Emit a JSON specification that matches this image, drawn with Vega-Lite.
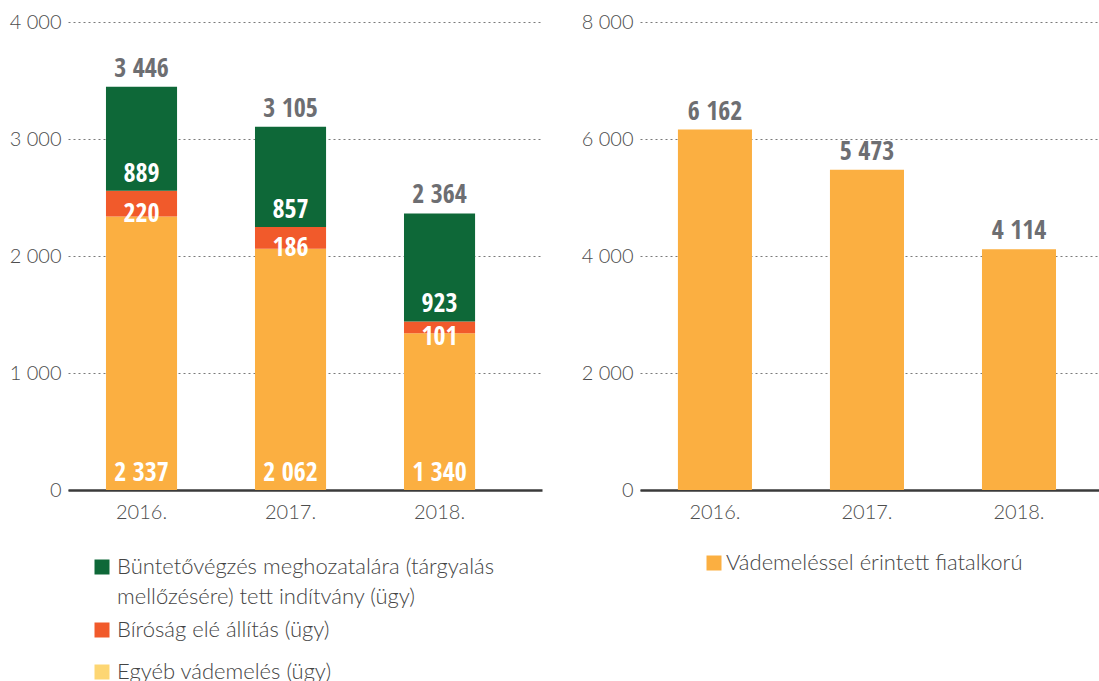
{
  "$schema": "https://vega.github.io/schema/vega-lite/v6.json",
  "background": "white",
  "padding": {"left": 9, "top": 12, "right": 0, "bottom": 0},
  "datasets": {
    "left": [
      {"year": "2016.", "category": "Egyéb vádemelés (ügy)", "value": 2337},
      {"year": "2016.", "category": "Bíróság elé állítás (ügy)", "value": 220},
      {"year": "2016.", "category": "Büntetővégzés meghozatalára (tárgyalás mellőzésére) tett indítvány (ügy)", "value": 889},
      {"year": "2017.", "category": "Egyéb vádemelés (ügy)", "value": 2062},
      {"year": "2017.", "category": "Bíróság elé állítás (ügy)", "value": 186},
      {"year": "2017.", "category": "Büntetővégzés meghozatalára (tárgyalás mellőzésére) tett indítvány (ügy)", "value": 857},
      {"year": "2018.", "category": "Egyéb vádemelés (ügy)", "value": 1340},
      {"year": "2018.", "category": "Bíróság elé állítás (ügy)", "value": 101},
      {"year": "2018.", "category": "Büntetővégzés meghozatalára (tárgyalás mellőzésére) tett indítvány (ügy)", "value": 923}
    ],
    "right": [
      {"year": "2016.", "value": 6162},
      {"year": "2017.", "value": 5473},
      {"year": "2018.", "value": 4114}
    ]
  },
  "hconcat": [
    {
      "width": 474,
      "height": 468,
      "data": {"name": "left"},
      "transform": [
        {"calculate": "indexof(['Egyéb vádemelés (ügy)', 'Bíróság elé állítás (ügy)', 'Büntetővégzés meghozatalára (tárgyalás mellőzésére) tett indítvány (ügy)'], datum.category)", "as": "ord"},
        {"stack": "value", "groupby": ["year"], "sort": [{"field": "ord", "order": "ascending"}], "as": ["y0", "y1"]},
        {"calculate": "(datum.y0 + datum.y1) / 2", "as": "ymid"}
      ],
      "encoding": {
        "x": {
          "field": "year", "type": "nominal", "title": null,
          "scale": {"paddingInner": 0.523, "paddingOuter": 0.352, "align": 0.362},
          "axis": {"labelAngle": 0, "domain": true, "domainColor": "#3a3a3a", "domainWidth": 2.5, "ticks": false, "grid": false, "labelPadding": 12}
        }
      },
      "layer": [
        {
          "mark": {"type": "bar"},
          "encoding": {
            "y": {
              "field": "y1", "type": "quantitative", "title": null,
              "scale": {"domain": [0, 4000]},
              "axis": {"values": [0, 1000, 2000, 3000, 4000], "format": ",d", "grid": true, "gridDash": [2, 3], "gridColor": "#7a7a7a", "gridWidth": 1, "domain": false, "ticks": false, "labelPadding": 7}
            },
            "y2": {"field": "y0"},
            "color": {
              "field": "category", "type": "nominal",
              "scale": {
                "domain": ["Büntetővégzés meghozatalára (tárgyalás mellőzésére) tett indítvány (ügy)", "Bíróság elé állítás (ügy)", "Egyéb vádemelés (ügy)"],
                "range": ["#0e6838", "#f15a2b", "#fbaf41"]
              },
              "legend": {
                "title": null, "orient": "none", "legendX": 23, "legendY": 534, "direction": "vertical",
                "symbolType": "square", "symbolSize": 49, "symbolStrokeWidth": 8,
                "labelFont": "Lato", "labelFontWeight": 300, "labelFontSize": 22, "labelColor": "#444444", "labelLimit": 600, "labelOffset": 4,
                "rowPadding": 2, "padding": 0,
                "labelExpr": "datum.label == 'Büntetővégzés meghozatalára (tárgyalás mellőzésére) tett indítvány (ügy)' ? ['Büntetővégzés meghozatalára (tárgyalás', 'mellőzésére) tett indítvány (ügy)'] : datum.label",
                "encode": {
                  "labels": {"update": {"lineHeight": {"value": 30}}},
                  "symbols": {"update": {"stroke": {"signal": "datum.label == 'Egyéb vádemelés (ügy)' ? '#fdd673' : datum.label == 'Bíróság elé állítás (ügy)' ? '#f15a2b' : '#0e6838'"}, "fill": {"signal": "datum.label == 'Egyéb vádemelés (ügy)' ? '#fdd673' : datum.label == 'Bíróság elé állítás (ügy)' ? '#f15a2b' : '#0e6838'"}}}
                }
              }
            }
          }
        },
        {
          "transform": [{"filter": "datum.ord == 2"}],
          "mark": {"type": "text", "baseline": "alphabetic", "dy": -9, "color": "white", "font": "'Open Sans Condensed', 'Roboto Condensed', 'DejaVu Sans Condensed'", "fontWeight": "bold", "fontSize": 26},
          "encoding": {
            "y": {"field": "y0", "type": "quantitative", "title": null},
            "text": {"field": "value", "type": "quantitative", "format": ",d"}
          }
        },
        {
          "transform": [{"filter": "datum.ord == 1"}],
          "mark": {"type": "text", "baseline": "alphabetic", "dy": 18, "color": "white", "font": "'Open Sans Condensed', 'Roboto Condensed', 'DejaVu Sans Condensed'", "fontWeight": "bold", "fontSize": 26},
          "encoding": {
            "y": {"field": "ymid", "type": "quantitative", "title": null},
            "text": {"field": "value", "type": "quantitative", "format": ",d"}
          }
        },
        {
          "transform": [{"filter": "datum.ord == 0"}],
          "mark": {"type": "text", "baseline": "alphabetic", "dy": -9, "color": "white", "font": "'Open Sans Condensed', 'Roboto Condensed', 'DejaVu Sans Condensed'", "fontWeight": "bold", "fontSize": 26},
          "encoding": {
            "y": {"field": "y0", "type": "quantitative", "title": null},
            "text": {"field": "value", "type": "quantitative", "format": ",d"}
          }
        },
        {
          "transform": [{"aggregate": [{"op": "sum", "field": "value", "as": "total"}], "groupby": ["year"]}],
          "mark": {"type": "text", "baseline": "alphabetic", "dy": -10, "color": "#6d6e72", "font": "'Open Sans Condensed', 'Roboto Condensed', 'DejaVu Sans Condensed'", "fontWeight": "bold", "fontSize": 26},
          "encoding": {
            "y": {"field": "total", "type": "quantitative", "title": null},
            "text": {"field": "total", "type": "quantitative", "format": ",d"}
          }
        }
      ]
    },
    {
      "width": 462,
      "height": 468,
      "data": {"name": "right"},
      "encoding": {
        "x": {
          "field": "year", "type": "nominal", "title": null,
          "scale": {"paddingInner": 0.513, "paddingOuter": 0.276, "align": 0.452},
          "axis": {"labelAngle": 0, "domain": true, "domainColor": "#3a3a3a", "domainWidth": 2.5, "ticks": false, "grid": false, "labelPadding": 12}
        },
        "y": {
          "field": "value", "type": "quantitative", "title": null,
          "scale": {"domain": [0, 8000]},
          "axis": {"values": [0, 2000, 4000, 6000, 8000], "format": ",d", "grid": true, "gridDash": [2, 3], "gridColor": "#7a7a7a", "gridWidth": 1, "domain": false, "ticks": false, "labelPadding": 7}
        }
      },
      "layer": [
        {
          "mark": {"type": "bar"},
          "encoding": {
            "color": {
              "datum": "Vádemeléssel érintett fiatalkorú", "type": "nominal",
              "scale": {"range": ["#fbaf41"]},
              "legend": {
                "title": null, "orient": "none", "legendX": 63, "legendY": 530, "direction": "vertical",
                "symbolType": "square", "symbolSize": 225, "symbolStrokeWidth": 0,
                "labelFont": "Lato", "labelFontWeight": 300, "labelFontSize": 22, "labelColor": "#444444", "labelLimit": 600, "labelOffset": 1, "padding": 0
              }
            }
          }
        },
        {
          "mark": {"type": "text", "baseline": "alphabetic", "dy": -10, "color": "#6d6e72", "font": "'Open Sans Condensed', 'Roboto Condensed', 'DejaVu Sans Condensed'", "fontWeight": "bold", "fontSize": 26},
          "encoding": {
            "text": {"field": "value", "type": "quantitative", "format": ",d"}
          }
        }
      ]
    }
  ],
  "spacing": 39,
  "resolve": {"legend": {"color": "independent"}, "scale": {"color": "independent", "y": "independent", "x": "independent"}},
  "config": {
    "view": {"stroke": null},
    "locale": {"number": {"decimal": ",", "thousands": " ", "grouping": [3], "currency": ["", ""]}},
    "axis": {"labelFont": "Lato", "labelFontWeight": 300, "labelFontSize": 20, "labelColor": "#4d4d4d"}
  }
}
